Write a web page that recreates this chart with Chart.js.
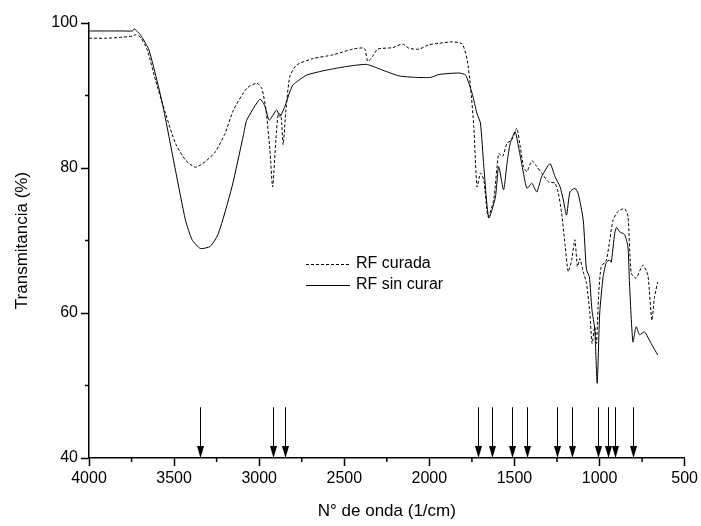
<!DOCTYPE html>
<html>
<head>
<meta charset="utf-8">
<script src="https://cdn.jsdelivr.net/npm/chart.js@4/dist/chart.umd.min.js"></script>
<style>
  html, body { margin: 0; padding: 0; background: #fff; }
  #wrap { width: 701px; height: 526px; }
</style>
</head>
<body>
<div id="wrap"><canvas id="ftirChart" width="701" height="526"></canvas></div>
<script>
// RF sin curar (linea continua)
const sinCurarX = [4000, 3900, 3800, 3745, 3735, 3715, 3696, 3648, 3569, 3492, 3433, 3394, 3346, 3287, 3239, 3160, 3092, 3073, 2995, 2966, 2941, 2898, 2878, 2849, 2820, 2800, 2722, 2644, 2605, 2488, 2372, 2330, 2275, 2177, 2080, 1992, 1943, 1826, 1787, 1749, 1720, 1700, 1680, 1651, 1612, 1593, 1564, 1544, 1525, 1496, 1476, 1447, 1427, 1398, 1369, 1340, 1291, 1262, 1232, 1213, 1194, 1174, 1145, 1126, 1096, 1077, 1060, 1045, 1028, 1014, 999, 979, 960, 940, 931, 911, 900, 882, 853, 833, 824, 804, 785, 765, 736, 697, 658];
const sinCurarY = [98.9, 98.9, 98.9, 98.9, 99.2, 98.8, 98.3, 96.3, 88.9, 79.7, 72.8, 70.1, 68.9, 69.2, 71.0, 77.4, 84.6, 86.6, 89.5, 88.5, 86.6, 88.0, 87.1, 88.5, 90.5, 91.5, 92.8, 93.3, 93.5, 94.0, 94.3, 94.0, 93.5, 92.7, 92.5, 92.5, 92.9, 93.1, 92.8, 90.3, 87.5, 86.2, 80.2, 73.1, 76.0, 80.2, 77.0, 80.6, 83.4, 85.0, 82.9, 79.3, 77.2, 77.9, 76.7, 78.8, 80.6, 78.8, 77.4, 75.6, 73.5, 76.7, 77.2, 76.5, 72.8, 66.0, 65.0, 60.5, 57.7, 50.3, 60.0, 65.0, 67.0, 67.3, 67.0, 71.0, 71.8, 71.2, 70.8, 69.1, 64.0, 56.0, 58.1, 57.0, 57.4, 55.8, 54.2];

// RF curada (linea discontinua)
const curadaX = [4000, 3900, 3823, 3745, 3725, 3696, 3658, 3609, 3550, 3492, 3433, 3375, 3316, 3258, 3200, 3151, 3073, 3014, 2985, 2960, 2937, 2921, 2902, 2888, 2872, 2859, 2843, 2820, 2781, 2683, 2567, 2450, 2382, 2362, 2333, 2304, 2216, 2158, 2119, 2060, 2002, 1943, 1866, 1807, 1778, 1758, 1739, 1720, 1700, 1680, 1655, 1622, 1593, 1569, 1544, 1515, 1486, 1466, 1447, 1427, 1398, 1369, 1340, 1301, 1262, 1242, 1223, 1203, 1184, 1164, 1145, 1130, 1116, 1096, 1077, 1057, 1044, 1028, 1018, 1005, 990, 960, 940, 921, 892, 853, 833, 814, 785, 746, 716, 693, 677, 658];
const curadaY = [97.9, 97.9, 98.0, 98.2, 98.4, 98.0, 96.3, 92.1, 87.5, 83.4, 81.1, 80.1, 80.9, 82.2, 84.8, 88.0, 91.0, 91.7, 91.0, 88.0, 82.5, 77.4, 83.9, 87.5, 87.3, 83.2, 88.0, 92.6, 94.2, 95.1, 95.6, 96.4, 96.5, 94.7, 95.4, 96.4, 96.6, 97.1, 96.5, 96.4, 97.0, 97.2, 97.4, 97.1, 94.9, 91.2, 85.7, 77.4, 79.3, 78.3, 73.3, 75.6, 82.0, 81.6, 83.4, 83.9, 85.5, 82.9, 80.2, 79.5, 81.0, 80.2, 79.3, 78.1, 77.9, 76.5, 73.8, 69.5, 65.7, 67.3, 70.1, 66.4, 67.5, 65.7, 64.1, 60.0, 55.8, 58.1, 55.8, 62.7, 66.4, 67.3, 70.1, 72.8, 74.0, 74.4, 73.3, 65.5, 64.8, 66.6, 65.2, 59.0, 62.2, 64.3];

// bandas marcadas con flechas
const arrowBands = [3350, 2920, 2850, 1715, 1630, 1515, 1425, 1250, 1160, 1010, 950, 910, 805];
const arrowFrom = 47;
const arrowTo = 40;

const seriesNames = ['RF curada', 'RF sin curar'];

const FONT = "'Liberation Sans', Arial, sans-serif";

function toPoints(xs, ys) {
    return xs.map(function(x, i) { return { x: x, y: ys[i] }; });
}

// flechas, ticks menores y leyenda
const extrasPlugin = {
    id: 'extras',
    afterDraw: function(chart) {
        const ctx = chart.ctx;
        const xs = chart.scales.x;
        const ys = chart.scales.y;
        ctx.save();
        ctx.strokeStyle = '#000';
        ctx.fillStyle = '#000';

        // minor ticks
        ctx.lineWidth = 1.5;
        const xt = xs.ticks;
        for (let i = 0; i < xt.length - 1; i++) {
            const px = xs.getPixelForValue((xt[i].value + xt[i + 1].value) / 2);
            ctx.beginPath();
            ctx.moveTo(px, xs.top);
            ctx.lineTo(px, xs.top + 4);
            ctx.stroke();
        }
        const yt = ys.ticks;
        for (let i = 0; i < yt.length - 1; i++) {
            const py = ys.getPixelForValue((yt[i].value + yt[i + 1].value) / 2);
            ctx.beginPath();
            ctx.moveTo(ys.right, py);
            ctx.lineTo(ys.right - 4, py);
            ctx.stroke();
        }

        // arrows
        ctx.lineWidth = 1;
        arrowBands.forEach(function(b) {
            const px = Math.round(xs.getPixelForValue(b)) + 0.5;
            const y0 = ys.getPixelForValue(arrowFrom);
            const y1 = ys.getPixelForValue(arrowTo);
            ctx.beginPath();
            ctx.moveTo(px, y0);
            ctx.lineTo(px, y1 - 10);
            ctx.stroke();
            ctx.beginPath();
            ctx.moveTo(px - 3.5, y1 - 12);
            ctx.lineTo(px + 3.5, y1 - 12);
            ctx.lineTo(px, y1);
            ctx.closePath();
            ctx.fill();
        });

        // legend
        const lx = 306, lw = 44;
        const rows = [264, 285];
        ctx.font = '16px ' + FONT;
        ctx.textBaseline = 'middle';
        ctx.textAlign = 'left';
        rows.forEach(function(ry, i) {
            ctx.lineWidth = 1;
            ctx.setLineDash(i === 0 ? [3, 2] : []);
            ctx.beginPath();
            ctx.moveTo(lx, ry + 0.5);
            ctx.lineTo(lx + lw, ry + 0.5);
            ctx.stroke();
            ctx.setLineDash([]);
            ctx.fillText(seriesNames[i], lx + lw + 6, ry);
        });
        ctx.restore();
    }
};

new Chart(document.getElementById('ftirChart').getContext('2d'), {
    type: 'line',
    data: {
        datasets: [{
            label: seriesNames[0],
            data: toPoints(curadaX, curadaY),
            borderColor: '#000',
            borderWidth: 1,
            borderDash: [3, 2],
            pointRadius: 0,
            tension: 0.2,
            fill: false
        }, {
            label: seriesNames[1],
            data: toPoints(sinCurarX, sinCurarY),
            borderColor: '#000',
            borderWidth: 1,
            pointRadius: 0,
            tension: 0.2,
            fill: false
        }]
    },
    options: {
        responsive: false,
        animation: false,
        layout: { padding: { top: 23, right: 14, left: 0, bottom: 0 } },
        plugins: {
            legend: { display: false },
            tooltip: { enabled: false }
        },
        scales: {
            x: {
                type: 'linear',
                reverse: true,
                min: 500,
                max: 4000,
                border: { display: true, color: '#000', width: 1.5 },
                grid: { drawOnChartArea: false, drawTicks: true, tickLength: 8, color: '#000', tickWidth: 1.5 },
                ticks: {
                    stepSize: 500, color: '#000', padding: 3, maxRotation: 0,
                    font: { family: FONT, size: 16 },
                    callback: function(v) { return String(v); }
                },
                title: { display: true, text: 'N° de onda (1/cm)', color: '#000', padding: { top: 8 }, font: { family: FONT, size: 17 } },
                afterFit: function(scale) { scale.height = 526 - 458; }
            },
            y: {
                min: 40,
                max: 100,
                border: { display: true, color: '#000', width: 1.5 },
                grid: { drawOnChartArea: false, drawTicks: true, tickLength: 8, color: '#000', tickWidth: 1.5 },
                ticks: {
                    stepSize: 20, color: '#000', padding: 3,
                    font: { family: FONT, size: 16 },
                    callback: function(v) { return String(v); }
                },
                title: { display: true, text: 'Transmitancia (%)', color: '#000', padding: { top: 12, bottom: 4 }, font: { family: FONT, size: 17 } },
                afterFit: function(scale) { scale.width = 89; }
            }
        }
    },
    plugins: [extrasPlugin]
});
</script>
</body>
</html>
